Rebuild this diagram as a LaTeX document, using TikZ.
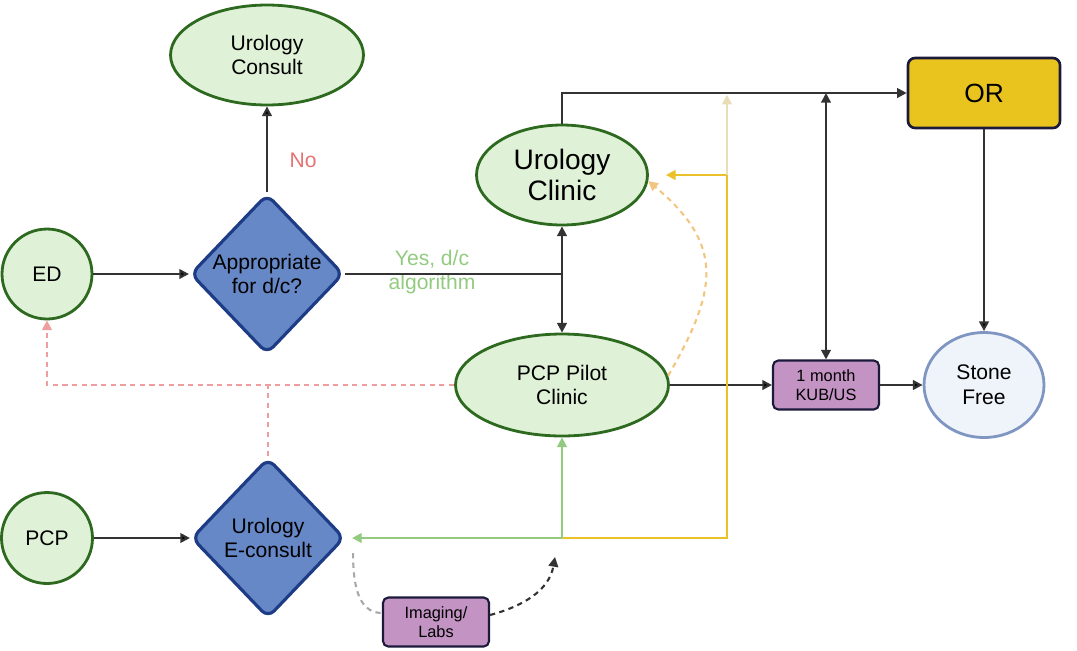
\documentclass[tikz,border=0pt]{standalone}
\usepackage{fontspec}
\setmainfont{Liberation Sans}
\usetikzlibrary{shapes.geometric,arrows.meta,calc}

\definecolor{leafgreen}{HTML}{DFF2D8}
\definecolor{rimgreen}{HTML}{2D6A1F}
\definecolor{diablue}{HTML}{6688C7}
\definecolor{navy}{HTML}{1E3C86}
\definecolor{ink}{HTML}{1C1A3A}
\definecolor{oryellow}{HTML}{E9C41F}
\definecolor{lilac}{HTML}{C293C3}
\definecolor{stonefill}{HTML}{EFF4FB}
\definecolor{stonerim}{HTML}{8096C2}
\definecolor{linegray}{HTML}{333333}
\definecolor{yelline}{HTML}{EBC12A}
\definecolor{beige}{HTML}{E9DDB5}
\definecolor{peach}{HTML}{F3C680}
\definecolor{rosy}{HTML}{EE9E9E}
\definecolor{norose}{HTML}{E57373}
\definecolor{mint}{HTML}{92CB80}
\definecolor{ashgray}{HTML}{A8A8A8}

\begin{document}
\begin{tikzpicture}[x=0.02cm,y=0.02cm,
    >={Triangle[length=5.5pt,width=5.5pt]},
    txt/.style={font=\fontsize{12}{14}\selectfont},
    oval/.style={ellipse,draw=rimgreen,fill=leafgreen,line width=1.6pt,inner sep=0pt,align=center,txt},
    decide/.style={diamond,draw=navy,fill=diablue,line width=1.8pt,rounded corners=5pt,inner sep=0pt,aspect=1,
        minimum width=3.06cm,minimum height=3.2cm,align=center,font=\fontsize{12}{13.5}\selectfont},
    testbox/.style={rectangle,rounded corners=3pt,draw=ink,fill=lilac,line width=1.2pt,
        minimum width=2.12cm,minimum height=0.98cm,align=center,font=\fontsize{9.3}{11}\selectfont},
    link/.style={line width=1.2pt,draw=linegray},
    soft/.style={line width=1.2pt,dash pattern=on 3pt off 2.5pt}]
\useasboundingbox (0,0) rectangle (1077,-650);

% nodes
\node[oval,minimum width=3.86cm,minimum height=2cm] (consult) at (267,-55) {Urology\\Consult};
\node[oval,minimum width=1.8cm,minimum height=1.8cm] (ed) at (47,-274) {ED};
\node[decide] (appr) at (267,-274) {Appropriate\\for d/c?};
\node[oval,minimum width=3.42cm,minimum height=2cm,font=\fontsize{16}{18}\selectfont] (clinic) at (562,-175) {Urology\\Clinic};
\node[oval,minimum width=4.26cm,minimum height=2.04cm] (pilot) at (562,-385) {PCP Pilot\\Clinic};
\node[rectangle,rounded corners=4pt,draw=ink,fill=oryellow,line width=1.5pt,minimum width=3.04cm,
    minimum height=1.4cm,font=\fontsize{15}{18}\selectfont] (or) at (984,-93) {OR};
\node[testbox] (kub) at (826,-385) {1 month\\KUB/US};
\node[oval,draw=stonerim,fill=stonefill,minimum width=2.4cm,minimum height=2.1cm] (stone) at (984,-385) {Stone\\Free};
\node[oval,minimum width=1.82cm,minimum height=1.82cm] (pcp) at (47,-538) {PCP};
\node[decide] (econ) at (268,-538) {Urology\\E-consult};
\node[testbox] (img) at (436,-622) {Imaging/\\Labs};

% labels
\node[txt,text=norose] (no) at (303,-160) {No};
\node[txt,text=mint,align=center] (yes) at (432,-272) {Yes, d/c\\algorithm};

% joints
\coordinate (split) at (pilot.north |- appr.east);
\coordinate (gjoin) at (pilot.south |- econ.east);
\coordinate (ycorner) at (727,-538);
\coordinate (ytop) at (727,-175);
\coordinate (labtip) at (555,-557);

% connectors
\path[link,->]
    (ed) edge (appr)
    (pcp) edge (econ)
    (appr) edge (consult)
    (pilot) edge (kub)
    (kub) edge (stone)
    (or) edge (stone);
\draw[link] (appr.east) -- (split);
\draw[link,<->] (clinic) -- (pilot);
\draw[link,->] (clinic.north) |- (or.west);
\draw[link,<->] (kub.north) -- (kub.north |- or.west);

\draw[yelline,line width=1.2pt] (gjoin) -- (ycorner) -- (ytop);
\draw[yelline,line width=1.2pt,->,shorten >=0.34cm] (ytop) -- (clinic.east);
\draw[beige,line width=1.2pt,->,shorten >=1pt] (ytop) -- (ytop |- or.west);
\draw[mint,line width=1.2pt,->,shorten >=0.12cm] (gjoin) -- (econ.east);
\draw[mint,line width=1.2pt,->] (gjoin) -- (pilot.south);

\draw[soft,peach,->] (pilot.5) to[out=60,in=-40,looseness=1.3] (clinic.-4);
\draw[soft,rosy,->] (pilot.west) -| (ed.south);
\draw[soft,rosy] (econ.north) -- (econ.north |- pilot.west);
\draw[soft,ashgray] ($(econ.east)+(7,-15)$) to[out=-90,in=180] ($(img.west)+(0,9)$);
\draw[soft,linegray,->] ($(img.east)+(0,7)$) to[out=15,in=-100] (labtip);
\end{tikzpicture}
\end{document}
